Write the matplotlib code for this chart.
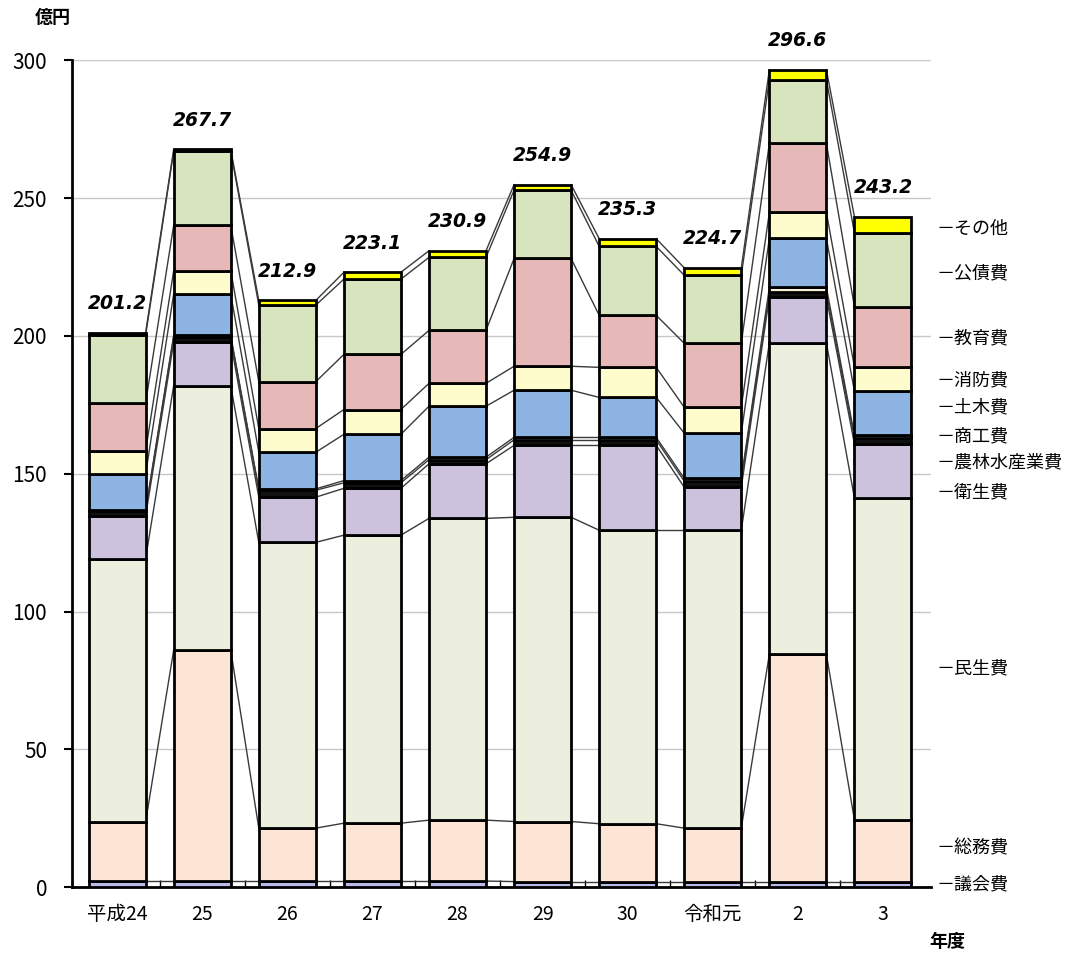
import numpy as np
import matplotlib.pyplot as plt

plt.rcParams['font.family'] = ['Noto Sans CJK JP', 'DejaVu Sans']

years = ['平成24', '25', '26', '27', '28', '29', '30', '令和元', '2', '3']
totals = [201.2, 267.7, 212.9, 223.1, 230.9, 254.9, 235.3, 224.7, 296.6, 243.2]

categories = ['議会費', '総務費', '民生費', '衛生費', '農林水産業費', '商工費',
              '土木費', '消防費', '教育費', '公債費', 'その他']

# 億円
gikai = [2.2, 2.2, 2.2, 2.2, 2.2, 2.0, 2.0, 2.0, 2.0, 2.0]
somu = [21.5, 83.8, 19.2, 21.0, 22.1, 21.8, 21.0, 19.4, 82.5, 22.3]
minsei = [95.5, 96.0, 103.7, 104.5, 109.5, 110.4, 106.5, 108.1, 113.0, 116.8]
eisei = [15.5, 15.7, 16.4, 17.0, 19.8, 26.1, 30.8, 15.6, 16.5, 19.6]
norin = [1.7, 2.0, 2.5, 2.0, 1.5, 2.0, 2.0, 2.2, 1.8, 2.2]
shoko = [0.5, 0.5, 0.5, 0.8, 0.9, 0.9, 0.9, 1.0, 1.8, 1.0]
doboku = [13.0, 15.0, 13.3, 16.8, 18.5, 17.1, 14.5, 16.4, 17.8, 16.0]
shobo = [8.3, 8.5, 8.6, 9.0, 8.3, 8.7, 10.9, 9.4, 9.4, 8.8]
kyoiku = [17.5, 16.5, 17.0, 20.0, 19.2, 39.1, 18.9, 23.2, 25.1, 21.8]
kosai = [24.5, 26.8, 27.8, 27.3, 26.5, 24.8, 25.0, 24.7, 23.1, 26.8]
sonota = [1.0, 0.7, 1.7, 2.5, 2.4, 2.0, 2.8, 2.7, 3.6, 5.9]

series = [gikai, somu, minsei, eisei, norin, shoko, doboku, shobo, kyoiku, kosai, sonota]
colors = ['#b9b9ea', '#fde5d6', '#ecefdd', '#cdc2de', '#111111', '#f6f1d6',
          '#8db4e2', '#fefccc', '#e6b9b8', '#d8e4be', '#ffff00']
label_y = [1.1, 14.1, 79.4, 143.3, 154.2, 163.6, 174.1, 183.9, 199.0, 222.7, 239.0]

fig = plt.figure(figsize=(10.91, 9.58), dpi=100)
ax = fig.add_axes([0.066, 0.074, 0.787, 0.863])

x = np.arange(len(years))
w = 0.67
bottom = np.zeros(len(years))
for vals, c in zip(series, colors):
    vals = np.array(vals)
    ax.bar(x, vals, w, bottom=bottom, color=c, edgecolor='black', linewidth=2, zorder=3)
    top = bottom + vals
    # 各年度の同じ区分をつなぐ線
    for i in range(len(x) - 1):
        ax.plot([x[i] + w / 2, x[i + 1] - w / 2], [top[i], top[i + 1]],
                color='#3a3a3a', lw=1, zorder=2)
    bottom = top

for i, t in enumerate(totals):
    ax.annotate(f'{t:.1f}', (x[i], bottom[i]), xytext=(0, 14), textcoords='offset points',
                ha='center', va='bottom', fontsize=13.5, fontweight='bold',
                fontstyle='italic', family='DejaVu Sans')

for name, yy in zip(categories, label_y):
    ax.text(9.63, yy, '－' + name, fontsize=13, va='center', ha='left', clip_on=False)

ax.set_xlim(-0.53, 9.56)
ax.set_ylim(0, 300)
ax.set_yticks(range(0, 301, 50))
ax.yaxis.grid(True, color='#c8c8c8', lw=1, zorder=0)
ax.set_axisbelow(True)
ax.set_xticks(x)
ax.set_xticklabels(years, fontsize=14)
ax.set_xticks(x[:-1] + 0.5, minor=True)
ax.tick_params(axis='x', which='major', length=0, pad=12)
ax.tick_params(axis='x', which='minor', length=5, direction='in', width=1)
ax.tick_params(axis='y', labelsize=15, length=6, width=1.5, pad=12)
for s in ['top', 'right']:
    ax.spines[s].set_visible(False)
ax.spines['left'].set_linewidth(2)
ax.spines['bottom'].set_linewidth(2)

fig.text(0.032, 0.982, '億円', fontsize=13, fontweight='bold', va='center')
fig.text(0.852, 0.017, '年度', fontsize=13, fontweight='bold', va='center')

fig.savefig('out.png', dpi=100)
